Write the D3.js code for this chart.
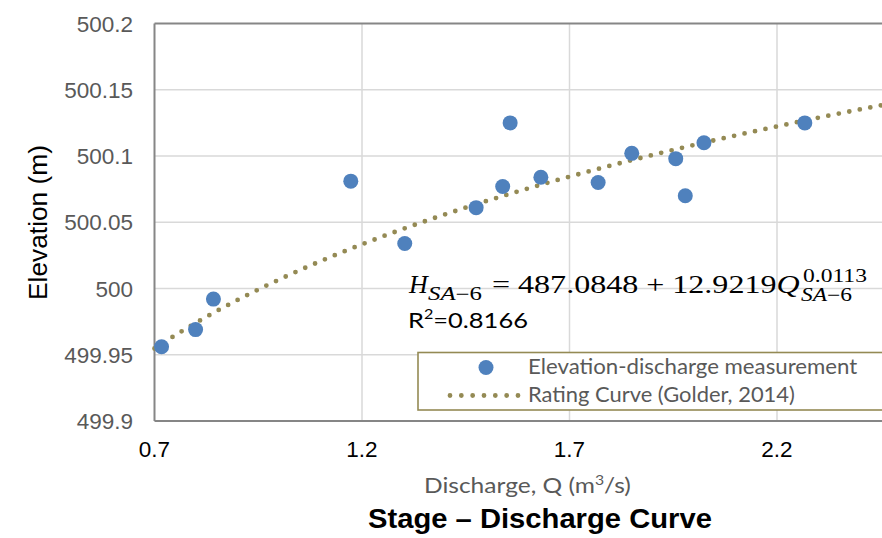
<!DOCTYPE html>
<html>
<head>
<meta charset="utf-8">
<script src="https://cdn.jsdelivr.net/npm/d3@7"></script>
<style>
  html, body { margin: 0; padding: 0; background: #fff; }
  svg { display: block; }
</style>
</head>
<body>
<svg id="chart" width="882" height="538"></svg>
<script>
// Measured stage–discharge pairs
const discharge = [0.717, 0.799, 0.842, 1.173, 1.303, 1.475, 1.539, 1.557, 1.631, 1.769, 1.850, 1.956, 1.979, 2.024, 2.267];
const elevation = [499.956, 499.969, 499.992, 500.081, 500.034, 500.061, 500.077, 500.125, 500.084, 500.080, 500.102, 500.098, 500.070, 500.110, 500.125];

// Rating curve coefficients: H = a + b * Q^c
const ratingA = 487.0848;
const ratingB = 12.9219;
const ratingC = 0.0113;
const rSquared = "0.8166";

// Axis ticks
const xTicks = [0.7, 1.2, 1.7, 2.2, 2.7];
const yTicks = [499.9, 499.95, 500, 500.05, 500.1, 500.15, 500.2];
const yTickLabels = ["499.9", "499.95", "500", "500.05", "500.1", "500.15", "500.2"];

const legendLabels = ["Elevation-discharge measurement", "Rating Curve (Golder, 2014)"];

const svg = d3.select("#chart");
const plotLeft = 154.5, plotTop = 23.5, plotBottom = 421;

const x = d3.scaleLinear().domain([0.7, 2.7]).range([plotLeft, plotLeft + 4 * 207.5]);
const y = d3.scaleLinear().domain([499.9, 500.2]).range([plotBottom, plotTop]);

const gridColor = "#d9d9d9";
const axisColor = "#868686";
const olive = "#948a54";
const blue = "#4f81bd";
const sansUI = "Lato, Carlito, Calibri, sans-serif";
const sansArial = "Liberation Sans, Arial, sans-serif";
const serif = "Liberation Serif, Times New Roman, serif";

// Horizontally scale a start-anchored text so it spans the given width
function stretchTo(sel, x0, width) {
  const w = sel.node().getBBox().width;
  sel.attr("transform", `translate(${x0},0) scale(${width / w},1) translate(${-x0},0)`);
  return sel;
}

// Gridlines
svg.append("g").selectAll("line")
  .data(yTicks.slice(1, -1))
  .join("line")
  .attr("x1", plotLeft).attr("x2", 882)
  .attr("y1", d => y(d)).attr("y2", d => y(d))
  .attr("stroke", gridColor).attr("stroke-width", 1.5);

svg.append("g").selectAll("line")
  .data(xTicks.slice(1))
  .join("line")
  .attr("x1", d => x(d)).attr("x2", d => x(d))
  .attr("y1", plotTop).attr("y2", plotBottom)
  .attr("stroke", gridColor).attr("stroke-width", 1.5);

// Frame lines (left, bottom, top)
svg.append("line").attr("x1", plotLeft).attr("x2", plotLeft).attr("y1", plotTop).attr("y2", plotBottom)
  .attr("stroke", axisColor).attr("stroke-width", 2);
svg.append("line").attr("x1", plotLeft).attr("x2", 882).attr("y1", plotBottom).attr("y2", plotBottom)
  .attr("stroke", axisColor).attr("stroke-width", 2);
svg.append("line").attr("x1", plotLeft).attr("x2", 882).attr("y1", plotTop).attr("y2", plotTop)
  .attr("stroke", axisColor).attr("stroke-width", 2);

// Y tick labels
svg.append("g").selectAll("text")
  .data(yTicks)
  .join("text")
  .attr("x", 133)
  .attr("y", d => y(d))
  .attr("dy", "0.36em")
  .attr("text-anchor", "end")
  .attr("font-family", sansArial)
  .attr("font-size", 22.5)
  .attr("fill", "#595959")
  .text((d, i) => yTickLabels[i]);

// X tick labels
svg.append("g").selectAll("text")
  .data(xTicks.filter(d => x(d) < 882))
  .join("text")
  .attr("x", d => x(d))
  .attr("y", 456.5)
  .attr("text-anchor", "middle")
  .attr("font-family", sansArial)
  .attr("font-size", 22.5)
  .attr("fill", "#000")
  .text(d => d.toFixed(1));

// Rating curve
const curveQ = d3.range(0.7, 2.7001, 0.01);
const line = d3.line()
  .x(q => x(q))
  .y(q => y(ratingA + ratingB * Math.pow(q, ratingC)));

svg.append("path")
  .datum(curveQ)
  .attr("d", line)
  .attr("fill", "none")
  .attr("stroke", olive)
  .attr("stroke-width", 4.8)
  .attr("stroke-linecap", "round")
  .attr("stroke-dasharray", "0 10.7");

// Measurements
svg.append("g").selectAll("circle")
  .data(discharge.map((q, i) => [q, elevation[i]]))
  .join("circle")
  .attr("cx", d => x(d[0]))
  .attr("cy", d => y(d[1]))
  .attr("r", 7.5)
  .attr("fill", blue);

// Equation label
const eq = svg.append("g").attr("font-family", serif).attr("fill", "#000");
eq.append("text").attr("x", 409).attr("y", 293).attr("font-size", 26)
  .attr("font-style", "italic").text("H");
const sub1 = eq.append("text").attr("x", 428).attr("y", 300).attr("font-size", 18);
sub1.append("tspan").attr("font-style", "italic").text("SA");
sub1.append("tspan").text("\u22126");
stretchTo(sub1, 428, 54);
const eqMain = eq.append("text").attr("x", 492).attr("y", 293).attr("font-size", 26);
eqMain.append("tspan").text(`= ${ratingA} + ${ratingB}`);
eqMain.append("tspan").attr("font-style", "italic").text("Q");
stretchTo(eqMain, 492, 308);
const sup = eq.append("text").attr("x", 803).attr("y", 282).attr("font-size", 18).text(String(ratingC));
stretchTo(sup, 803, 64);
const sub2 = eq.append("text").attr("x", 801).attr("y", 301).attr("font-size", 18);
sub2.append("tspan").attr("font-style", "italic").text("SA");
sub2.append("tspan").text("\u22126");
stretchTo(sub2, 801, 51);

// R² label
const r2 = svg.append("text").attr("x", 408).attr("y", 328)
  .attr("font-family", sansUI).attr("font-size", 22).attr("fill", "#000");
r2.append("tspan").text("R");
r2.append("tspan").attr("font-size", 14).attr("dy", -9).text("2");
r2.append("tspan").attr("dy", 9).text("=" + rSquared);
stretchTo(r2, 408, 120);

// Legend
const legend = svg.append("g");
legend.append("rect")
  .attr("x", 418).attr("y", 352.5).attr("width", 470).attr("height", 57.5)
  .attr("fill", "#fff").attr("stroke", olive).attr("stroke-width", 1.6);
legend.append("circle").attr("cx", 486).attr("cy", 367.5).attr("r", 7.5).attr("fill", blue);
legend.append("line").attr("x1", 450).attr("x2", 518).attr("y1", 395.5).attr("y2", 395.5)
  .attr("stroke", olive).attr("stroke-width", 4.8).attr("stroke-linecap", "round")
  .attr("stroke-dasharray", "0 11.33");
const legendWidths = [330, 267];
legend.selectAll("text")
  .data(legendLabels)
  .join("text")
  .attr("x", 528)
  .attr("y", (d, i) => 374.5 + i * 28)
  .attr("font-family", sansUI)
  .attr("font-size", 21)
  .attr("fill", "#595959")
  .text(d => d)
  .each(function(d, i) { stretchTo(d3.select(this), 528, legendWidths[i]); });

// X axis title
const xt = svg.append("text").attr("x", 424).attr("y", 493)
  .attr("font-family", sansUI).attr("font-size", 21).attr("fill", "#595959");
xt.append("tspan").text("Discharge, Q (m");
xt.append("tspan").attr("font-size", 13.5).attr("dy", -8).text("3");
xt.append("tspan").attr("dy", 8).text("/s)");
stretchTo(xt, 424, 207);

// Y axis title
const yt = svg.append("text")
  .attr("text-anchor", "middle")
  .attr("font-family", sansArial)
  .attr("font-size", 26)
  .attr("fill", "#000")
  .text("Elevation (m)");
const ytw = yt.node().getBBox().width;
yt.attr("transform", `translate(47,222.5) rotate(-90) scale(${155 / ytw},1)`);

// Chart title
const title = svg.append("text")
  .attr("x", 368).attr("y", 528)
  .attr("font-family", sansArial)
  .attr("font-weight", "bold")
  .attr("font-size", 27)
  .attr("fill", "#000")
  .text("Stage \u2013 Discharge Curve");
stretchTo(title, 368, 344);
</script>
</body>
</html>
